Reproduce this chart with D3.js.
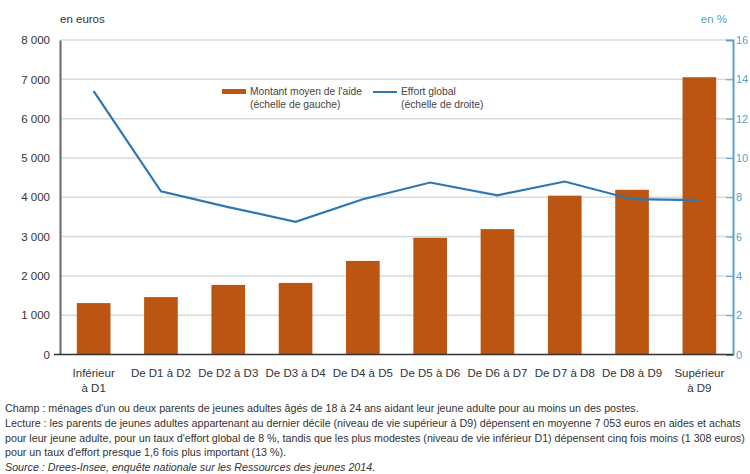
<!DOCTYPE html>
<html>
<head>
<meta charset="utf-8">
<script src="https://cdn.jsdelivr.net/npm/d3@7/dist/d3.min.js"></script>
<style>
  html, body { margin: 0; padding: 0; background: #fff; }
  svg { display: block; }
  text { font-family: "Liberation Sans", Arial, sans-serif; }
</style>
</head>
<body>
<svg id="chart" width="750" height="474"></svg>
<script>
// Déciles de niveau de vie des parents
const categories = [
  ["Inférieur", "à D1"], ["De D1 à D2"], ["De D2 à D3"], ["De D3 à D4"], ["De D4 à D5"],
  ["De D5 à D6"], ["De D6 à D7"], ["De D7 à D8"], ["De D8 à D9"], ["Supérieur", "à D9"]
];
// Montant moyen de l'aide, en euros (échelle de gauche)
const montant = [1308, 1460, 1770, 1820, 2380, 2970, 3190, 4040, 4190, 7053];
// Effort global, en % (échelle de droite)
const effort = [13.4, 8.3, 7.5, 6.75, 7.9, 8.75, 8.1, 8.8, 7.9, 7.85];

const leftTicks = [0, 1000, 2000, 3000, 4000, 5000, 6000, 7000, 8000];
const rightTicks = [0, 2, 4, 6, 8, 10, 12, 14, 16];

const notes = [
  { t: "Champ : ménages d'un ou deux parents de jeunes adultes âgés de 18 à 24 ans aidant leur jeune adulte pour au moins un des postes.", it: false },
  { t: "Lecture : les parents de jeunes adultes appartenant au dernier décile (niveau de vie supérieur à D9) dépensent en moyenne 7 053 euros en aides et achats", it: false },
  { t: "pour leur jeune adulte, pour un taux d'effort global de 8 %, tandis que les plus modestes (niveau de vie inférieur D1) dépensent cinq fois moins (1 308 euros)", it: false },
  { t: "pour un taux d'effort presque 1,6 fois plus important (13 %).", it: false },
  { t: "Source : Drees-Insee, enquête nationale sur les Ressources des jeunes 2014.", it: true }
];

const svg = d3.select("#chart");
const m = { left: 60, right: 733, top: 40, bottom: 354.5 };

const x = d3.scaleBand().domain(d3.range(categories.length)).range([m.left, m.right]).paddingInner(0.5).paddingOuter(0.25);
const yL = d3.scaleLinear().domain([0, 8000]).range([m.bottom, m.top]);
const yR = d3.scaleLinear().domain([0, 16]).range([m.bottom, m.top]);

const barColor = "#bd5512";
const lineColor = "#2f77b0";
const rightColor = "#5c9fc9";
const fmt = v => d3.format(",")(v).replace(/,/g, " ");

// Quadrillage horizontal
svg.append("g").selectAll("line").data(leftTicks.filter(d => d > 0)).join("line")
  .attr("x1", m.left).attr("x2", m.right)
  .attr("y1", d => yL(d)).attr("y2", d => yL(d))
  .attr("stroke", "#d3dbde").attr("stroke-width", 1.5);

// Axe de gauche
const gL = svg.append("g").attr("transform", `translate(${m.left},0)`)
  .call(d3.axisLeft(yL).tickValues(leftTicks).tickFormat(fmt).tickSize(0).tickPadding(10));
gL.select(".domain").attr("stroke", "#666").attr("stroke-width", 2);
gL.selectAll("text").attr("font-size", 11.5).attr("fill", "#333");

// Axe de droite
const gR = svg.append("g").attr("transform", `translate(${m.right},0)`)
  .call(d3.axisRight(yR).tickValues(rightTicks).tickSize(-7).tickPadding(3));
gR.select(".domain").attr("stroke", rightColor).attr("stroke-width", 2);
gR.selectAll(".tick line").attr("stroke", rightColor).attr("stroke-width", 1);
gR.selectAll("text").attr("font-size", 11).attr("fill", rightColor);

// Barres
svg.append("g").selectAll("rect").data(montant).join("rect")
  .attr("x", (d, i) => x(i)).attr("width", x.bandwidth())
  .attr("y", d => yL(d)).attr("height", d => yL(0) - yL(d))
  .attr("fill", barColor);

// Ligne de base
svg.append("line").attr("x1", m.left - 6).attr("x2", m.right).attr("y1", yL(0)).attr("y2", yL(0))
  .attr("stroke", "#333").attr("stroke-width", 1.5);

// Courbe d'effort global
svg.append("path").datum(effort)
  .attr("d", d3.line().x((d, i) => x(i) + x.bandwidth() / 2).y(d => yR(d)))
  .attr("fill", "none").attr("stroke", lineColor).attr("stroke-width", 2.2);

// Libellés des catégories
const cat = svg.append("g").selectAll("text").data(categories).join("text")
  .attr("x", (d, i) => x(i) + x.bandwidth() / 2).attr("y", 377)
  .attr("text-anchor", "middle").attr("font-size", 11.5).attr("fill", "#333");
cat.selectAll("tspan").data(d => d).join("tspan")
  .attr("x", function () { return this.parentNode.getAttribute("x"); })
  .attr("dy", (d, i) => i === 0 ? 0 : 15).text(d => d);

// Unités
svg.append("text").attr("x", 60).attr("y", 23).attr("font-size", 11.5).attr("fill", "#333").text("en euros");
svg.append("text").attr("x", 727).attr("y", 23).attr("text-anchor", "end").attr("font-size", 11.5).attr("fill", rightColor).text("en %");

// Légende
const lg = svg.append("g");
lg.append("rect").attr("x", 222).attr("y", 89).attr("width", 24).attr("height", 5).attr("fill", barColor);
lg.append("text").attr("x", 250).attr("y", 95).attr("font-size", 10.3).attr("fill", "#444").text("Montant moyen de l'aide");
lg.append("text").attr("x", 250).attr("y", 108).attr("font-size", 10.3).attr("fill", "#444").text("(échelle de gauche)");
lg.append("line").attr("x1", 373).attr("x2", 397).attr("y1", 92).attr("y2", 92).attr("stroke", lineColor).attr("stroke-width", 2);
lg.append("text").attr("x", 401).attr("y", 95).attr("font-size", 10.3).attr("fill", "#444").text("Effort global");
lg.append("text").attr("x", 401).attr("y", 108).attr("font-size", 10.3).attr("fill", "#444").text("(échelle de droite)");

// Notes
svg.append("g").selectAll("text").data(notes).join("text")
  .attr("x", 5).attr("y", (d, i) => 412 + i * 14.8)
  .attr("font-size", 10.7).attr("fill", "#333")
  .attr("font-style", d => d.it ? "italic" : "normal")
  .text(d => d.t);
</script>
</body>
</html>
